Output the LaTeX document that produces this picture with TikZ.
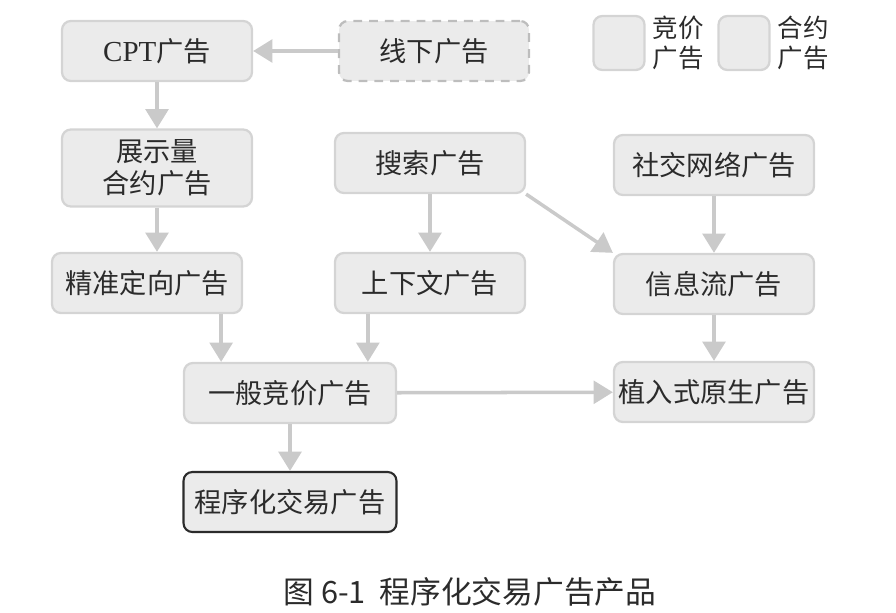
\documentclass[tikz,border=0pt]{standalone}
\usepackage{fontspec}
\newfontfamily\cjk{Noto Sans CJK SC}
\newfontfamily\latinserif{Liberation Serif}
\usetikzlibrary{arrows.meta,positioning,calc}
\definecolor{ink}{HTML}{2B2B2B}
\definecolor{boxfill}{HTML}{EBEBEB}
\definecolor{boxline}{HTML}{D4D4D4}
\definecolor{dashline}{HTML}{BDBDBD}
\definecolor{arrowline}{HTML}{CACACA}
\tikzset{
  adbox/.style={draw=boxline,line width=1.3pt,fill=boxfill,rounded corners=5pt,
    minimum width=3.8cm,minimum height=1.2cm,align=center,text=ink,
    font=\cjk\fontsize{15.5}{18}\selectfont},
  offline/.style={adbox,draw=dashline,dash pattern=on 5pt off 4pt},
  goal/.style={adbox,draw=ink,line width=1.2pt},
  keybox/.style={adbox,minimum width=1.02cm,minimum height=1.08cm},
  keytext/.style={align=left,inner sep=0pt,text=ink,font=\cjk\fontsize{14.5}{17}\selectfont},
  flow/.style={draw=arrowline,line width=2pt,-{Triangle[length=11pt,width=13pt]}},
}

\begin{document}
\begin{tikzpicture}[x=0.02cm,y=-0.02cm]
    \useasboundingbox (0,0) rectangle (896,612);
    % boxes
    \node[adbox] (cpt) at (157,51) {{\latinserif\fontsize{16.5}{18}\selectfont CPT}广告};
    \node[offline] (offline) at (434,51) {线下广告};
    \node[adbox,minimum height=1.54cm] (display) at (157,168) {展示量\\合约广告};
    \node[adbox] (search) at (430,163) {搜索广告};
    \node[adbox,minimum width=4cm] (social) at (714,165) {社交网络广告};
    \node[adbox] (precise) at (147,283) {精准定向广告};
    \node[adbox] (context) at (430,283) {上下文广告};
    \node[adbox,minimum width=4cm] (feed) at (714,284) {信息流广告};
    \node[adbox,minimum width=4.24cm] (general) at (290,393) {一般竞价广告};
    \node[adbox,minimum width=4cm,inner xsep=2pt] (native) at (714,392) {植入式原生广告};
    \node[goal,minimum width=4.26cm,inner xsep=2pt] (prog) at (290,502) {程序化交易广告};
    % legend
    \node[keybox] (bidkey) at (619,43) {};
    \node[keytext,right=0.14cm of bidkey] (bidtext) {竞价\\广告};
    \node[keybox] (dealkey) at (744,43) {};
    \node[keytext,right=0.14cm of dealkey] (dealtext) {合约\\广告};
    % arrows
    \draw[flow] (offline) -- (cpt);
    \draw[flow] (cpt) -- (display);
    \draw[flow] (display.south) -- (display.south |- precise.north);
    \draw[flow] (search) -- (context);
    \draw[flow] (search.south east) -- (feed.north west);
    \draw[flow] (social) -- (feed);
    \draw[flow] (feed) -- (native);
    \draw[flow] ([xshift=-0.44cm]precise.south east) -- ([xshift=-0.44cm]precise.south east |- general.north);
    \draw[flow] ([xshift=0.68cm]context.south west) -- ([xshift=0.68cm]context.south west |- general.north);
    \draw[flow] (general) -- (native);
    \draw[flow] (general) -- (prog);
    % caption
    \node[text=ink,font=\cjk\fontsize{17.5}{20}\selectfont] (caption) at (470,592) {图 6-1\ \ 程序化交易广告产品};
\end{tikzpicture}
\end{document}
